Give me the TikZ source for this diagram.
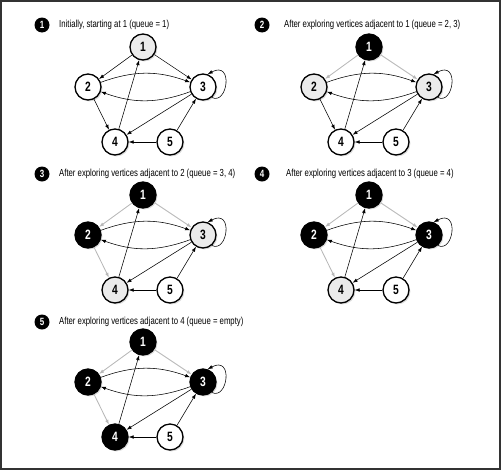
\documentclass[tikz,border=0pt]{standalone}
\usepackage{fontspec}
\setmainfont{Liberation Sans}[FakeStretch=0.76]
\usetikzlibrary{arrows.meta,shadows}

\definecolor{framegray}{HTML}{333333}
\definecolor{treegray}{HTML}{B8B8B8}
\definecolor{seenfill}{HTML}{EBEBEB}

\tikzset{
  vtx/.style={circle, draw=black, line width=1.3pt, minimum size=26pt, inner sep=0pt,
    fill=white, font=\bfseries\fontsize{13.5}{13.5}\selectfont,
    drop shadow={shadow xshift=1.4pt, shadow yshift=-1.4pt, opacity=0.3}},
  vnew/.style={vtx},
  vseen/.style={vtx, fill=seenfill},
  vdone/.style={vtx, fill=black, text=white},
  arc/.style={draw=black, line width=0.55pt, -{Latex[length=5pt,width=3.6pt]}},
  tree/.style={arc, draw=treegray, line width=0.85pt},
  stepnum/.style={circle, fill=black, text=white, minimum size=15pt, inner sep=0pt,
    font=\bfseries\fontsize{10.5}{10.5}\selectfont},
  caption/.style={anchor=west, inner sep=0pt, font=\fontsize{10.2}{12}\selectfont},
}

% One copy of the directed graph; #1 name prefix, #2-#6 vertex styles,
% #7 style of 1->2 and 1->3, #8 style of 2->4
\newcommand\bfsgraph[8]{%
  \node[#2] (#1-1) at (143,-47) {1};
  \node[#3] (#1-2) at (88,-87) {2};
  \node[#4] (#1-3) at (203,-87) {3};
  \node[#5] (#1-4) at (115,-142) {4};
  \node[#6] (#1-5) at (170,-142) {5};
  \draw[#7] (#1-1) -- (#1-2);
  \draw[#7] (#1-1) -- (#1-3);
  \draw[arc] (#1-2) to[bend left=20] (#1-3);
  \draw[arc] (#1-3) to[bend left=20] (#1-2);
  \draw[#8] (#1-2) -- (#1-4);
  \draw[arc] (#1-3) -- (#1-4);
  \draw[arc] (#1-4) -- (#1-1);
  \draw[arc] (#1-5) -- (#1-4);
  \draw[arc] (#1-5) -- (#1-3);
  \draw[arc] (#1-3.-50) .. controls +(16,-8) and +(26,14) .. (#1-3.70);
}

\begin{document}
\begin{tikzpicture}[x=1pt,y=1pt]
  \useasboundingbox (0,0) rectangle (502,-471);
  \draw[framegray, line width=1.4pt] (1,-1) rectangle (500,-469);

  % step 1
  \node[stepnum] (n1) at (42,-25) {1};
  \node[caption] (c1) at (59,-25) {Initially, starting at 1 (queue = 1)};
  \bfsgraph{a}{vseen}{vnew}{vnew}{vnew}{vnew}{arc}{arc}

  % step 2
  \node[stepnum] (n2) at (262,-25) {2};
  \node[caption] (c2) at (284,-25) {After exploring vertices adjacent to 1 (queue = 2, 3)};
  \begin{scope}[shift={(226,0)}]
    \bfsgraph{b}{vdone}{vseen}{vseen}{vnew}{vnew}{tree}{arc}
  \end{scope}

  % step 3
  \node[stepnum] (n3) at (42,-174) {3};
  \node[caption] (c3) at (59,-174) {After exploring vertices adjacent to 2 (queue = 3, 4)};
  \begin{scope}[shift={(0,-148)}]
    \bfsgraph{c}{vdone}{vdone}{vseen}{vseen}{vnew}{tree}{tree}
  \end{scope}

  % step 4
  \node[stepnum] (n4) at (262,-174) {4};
  \node[caption] (c4) at (286,-174) {After exploring vertices adjacent to 3 (queue = 4)};
  \begin{scope}[shift={(226,-148)}]
    \bfsgraph{d}{vdone}{vdone}{vdone}{vseen}{vnew}{tree}{tree}
  \end{scope}

  % step 5
  \node[stepnum] (n5) at (42,-322) {5};
  \node[caption] (c5) at (59,-322) {After exploring vertices adjacent to 4 (queue = empty)};
  \begin{scope}[shift={(0,-295)}]
    \bfsgraph{e}{vdone}{vdone}{vdone}{vdone}{vnew}{tree}{tree}
  \end{scope}
\end{tikzpicture}
\end{document}
